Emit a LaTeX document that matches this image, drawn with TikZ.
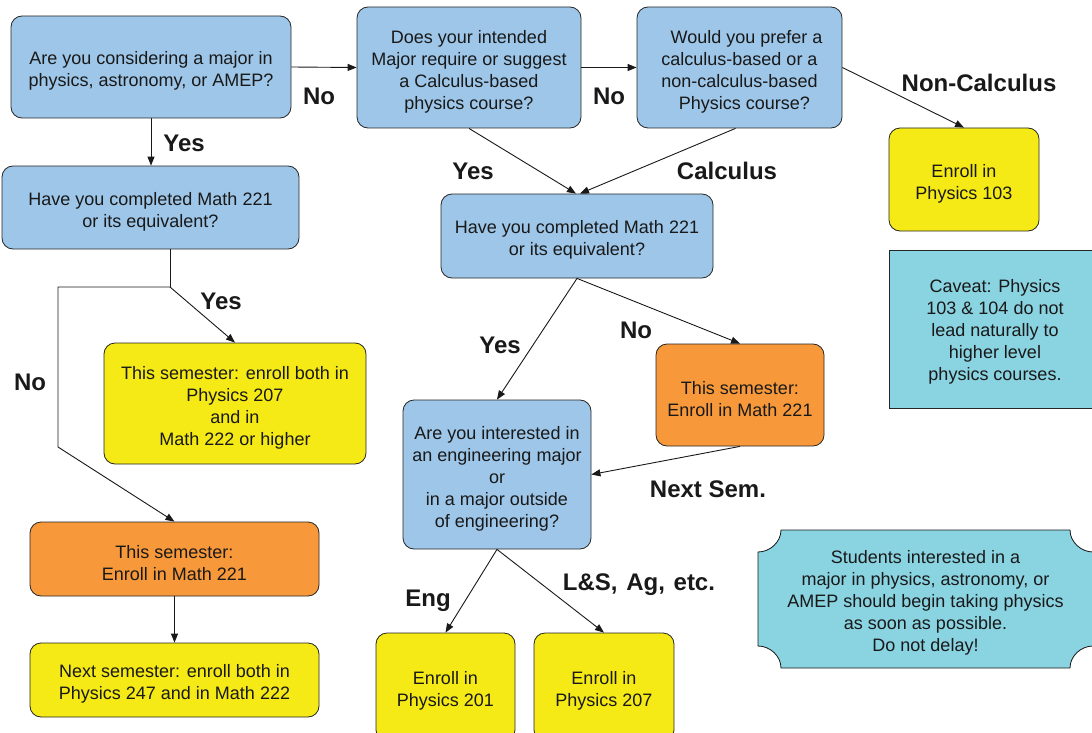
\documentclass[tikz,border=0pt]{standalone}
\usepackage{fontspec}
\setmainfont{Liberation Sans}
\usetikzlibrary{arrows.meta}
\definecolor{qblue}{RGB}{157,198,232}
\definecolor{qyellow}{RGB}{245,234,22}
\definecolor{qorange}{RGB}{247,153,58}
\definecolor{qteal}{RGB}{138,211,225}
\newcommand{\mytopstrut}{\rule{0pt}{21.5pt}}
\begin{document}
\begin{tikzpicture}[x=1pt,y=-1pt,
  box/.style={draw=black!85, line width=0.8pt, rounded corners=11pt, inner sep=0pt, align=center, font={\fontsize{18}{22}\selectfont}, text=black!90},
  qbox/.style={box, fill=qblue},
  ybox/.style={box, fill=qyellow},
  obox/.style={box, fill=qorange},
  cavbox/.style={draw=black!85, line width=0.8pt, fill=qteal, inner sep=0pt, font={\fontsize{18}{22}\selectfont}, text=black!90},
  lbl/.style={font={\bfseries\fontsize{24}{28}\selectfont}, inner sep=0pt, text=black!90},
  conn/.style={draw=black!90, line width=0.9pt, -{Triangle[length=9pt,width=7pt]}},
  plain/.style={draw=black!90, line width=0.8pt},
]
\useasboundingbox (0,0) rectangle (1092,733);
\clip (0,0) rectangle (1092,733);

% nodes
\node[qbox, minimum width=280, minimum height=102] (A) at (151,67) {\mytopstrut Are you considering a major in\\physics, astronomy, or AMEP?};
\node[qbox, minimum width=224, minimum height=121] (B) at (469,67.5) {\mytopstrut Does your intended\\Major require or suggest\\a Calculus-based\\physics course?};
\node[qbox, minimum width=205, minimum height=121] (C) at (739.5,67.5) {\mytopstrut\hspace*{14pt}Would you prefer a\\calculus-based or a\\non-calculus-based\\\hspace*{10pt}Physics course?};
\node[ybox, minimum width=150, minimum height=103] (D) at (964,179.5) {\mytopstrut Enroll in\\Physics 103};
\node[cavbox, minimum width=212, minimum height=158] (cav) at (995,329) {\begin{tabular}{@{}c@{}}\mytopstrut Caveat: Physics\\103 \& 104 do not\\lead naturally to\\higher level\\physics courses.\end{tabular}};
\node[qbox, minimum width=297, minimum height=83] (E) at (150.5,207.5) {\mytopstrut Have you completed Math 221\\or its equivalent?};
\node[qbox, minimum width=272, minimum height=84] (F) at (577,236) {\mytopstrut Have you completed Math 221\\or its equivalent?};
\node[ybox, minimum width=262, minimum height=121] (G) at (235,403.5) {\mytopstrut This semester: enroll both in\\Physics 207\\and in\\Math 222 or higher};
\node[obox, minimum width=289, minimum height=74] (H) at (174.5,559) {\mytopstrut This semester:\\Enroll in Math 221};
\node[ybox, minimum width=289, minimum height=74] (I) at (174.5,680) {\mytopstrut Next semester: enroll both in\\Physics 247 and in Math 222};
\node[obox, minimum width=168, minimum height=102] (J) at (740,395) {\mytopstrut This semester:\\Enroll in Math 221};
\node[qbox, minimum width=188, minimum height=149] (K) at (497,474.5) {\mytopstrut Are you interested in\\an engineering major\\or\\in a major outside\\of engineering?};
\node[ybox, minimum width=139, minimum height=108] (L) at (445.5,687) {\mytopstrut Enroll in\\Physics 201};
\node[ybox, minimum width=140, minimum height=108] (M) at (604,687) {\mytopstrut Enroll in\\Physics 207};

% plaque
\draw[plain, fill=qteal] (781,530) -- (1070,530) .. controls (1070,542) and (1081,552) .. (1093,552)
  -- (1093,646) .. controls (1081,646) and (1070,656) .. (1070,668)
  -- (781,668) .. controls (781,656) and (770,646) .. (758,646)
  -- (758,552) .. controls (770,552) and (781,542) .. (781,530) -- cycle;
\node[align=center, inner sep=0pt, font={\fontsize{18}{22}\selectfont}, text=black!90] (N) at (925.5,599) {\mytopstrut Students interested in a\\major in physics, astronomy, or\\AMEP should begin taking physics\\as soon as possible.\\Do not delay!};

% connectors
\coordinate (j) at (170,287);
\coordinate (k) at (58,287);
\coordinate (m) at (58,447);
\draw[conn] (A.east) -- (B.west);
\draw[conn] (B.east) -- (C.west);
\draw[conn] (A.south) -- (A.south |- E.north);
\draw[conn] (C.east) -- (D.north);
\draw[conn] (B.south) -- ([xshift=-1]F.north);
\draw[conn] ([xshift=-4]C.south) -- ([xshift=3]F.north);
\draw[plain] (j |- E.south) -- (j);
\draw[conn] (j) -- (G.north);
\draw[conn] (j) -- (k) -- (m) -- (H.north);
\draw[conn] (H.south) -- (I.north);
\draw[conn] (F.south) -- (K.north);
\draw[conn] (F.south) -- (J.north);
\draw[conn] (J.south) -- (K.east);
\draw[conn] (K.south) -- (L.north);
\draw[conn] (K.south) -- (M.north);

% labels
\node[lbl] (l1) at (319,96) {No};
\node[lbl] (l2) at (609,96) {No};
\node[lbl] (l3) at (184,143) {Yes};
\node[lbl] (l4) at (979,83) {Non-Calculus};
\node[lbl] (l5) at (473,171) {Yes};
\node[lbl] (l6) at (727,171) {Calculus};
\node[lbl] (l7) at (221,301) {Yes};
\node[lbl] (l8) at (30,382) {No};
\node[lbl] (l9) at (500,345) {Yes};
\node[lbl] (l10) at (636,330) {No};
\node[lbl] (l11) at (708,489) {Next Sem.};
\node[lbl] (l12) at (428,601) {Eng};
\node[lbl] (l13) at (639,585) {L\&S,\hspace{2pt} Ag,\hspace{2pt} etc.};
\end{tikzpicture}
\end{document}
